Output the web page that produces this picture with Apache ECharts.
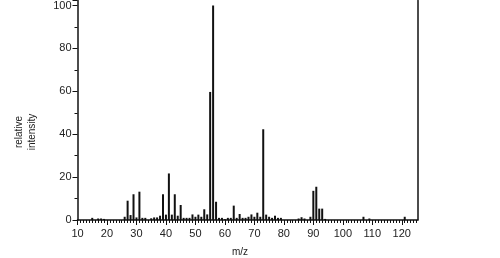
<!DOCTYPE html>
<html>
<head>
<meta charset="utf-8">
<script src="https://cdn.jsdelivr.net/npm/echarts@6/dist/echarts.min.js"></script>
<style>html,body{margin:0;padding:0;background:#fff}#c{width:500px;height:258px}</style>
</head>
<body>
<div id="c"></div>
<script>
var mz = [15,17,18,19,26,27,28,29,30,31,32,33,35,36,37,38,39,40,41,42,43,44,45,46,47,48,49,50,51,52,53,54,55,56,57,58,59,60,61,62,63,64,65,66,67,68,69,70,71,72,73,74,75,76,77,78,79,85,86,87,89,90,91,92,93,94,107,109,121];
var intensity = [1.0,0.7,0.7,0.5,1.5,9,2.3,12,1.2,13.2,1,1,0.8,1.2,1.2,2,12,2.5,21.7,2.5,12,2,7,1,1,1,2.6,1.5,2.5,1.5,5,2.6,59.7,100,8.5,1,1,0.4,1,1,6.7,1,2.8,1,1,1.5,2.6,1.5,3.4,1.5,42.3,2.5,1.5,1,2,1,1,0.7,1.3,0.7,1.5,13.6,15.5,5.3,5.3,0.5,1.5,0.7,1.5];
var xTicks = [10,20,30,40,50,60,70,80,90,100,110,120];
var yTicks = [0,20,40,60,80,100];
var xTitle = 'm/z';
var yTitle = 'relative\nintensity';

var data = mz.map(function(m,i){return [m,intensity[i]];});
var chart = echarts.init(document.getElementById('c'), null, {renderer:'canvas'});
var font = 'Liberation Sans, Arial, sans-serif';
var yMax = 102.3;
chart.setOption({
  animation:false,
  grid:{left:77.5,right:82.3,top:0,bottom:38,show:false},
  xAxis:{type:'value',min:10,max:125.4,interval:10,
    axisLine:{show:true,lineStyle:{color:'#111',width:1.5}},
    axisTick:{show:true,inside:false,length:5,customValues:xTicks,lineStyle:{color:'#111',width:1}},
    minorTick:{show:true,splitNumber:10,length:3,lineStyle:{color:'#111',width:1}},
    splitLine:{show:false},
    axisLabel:{color:'#222',fontSize:11,fontFamily:font,margin:8,customValues:xTicks,
      formatter:function(v){return xTicks.indexOf(v)>=0?String(v):'';}}
  },
  yAxis:[{type:'value',min:0,max:yMax,interval:20,
    axisLine:{show:true,lineStyle:{color:'#111',width:1.5}},
    axisTick:{show:true,inside:false,length:5,lineStyle:{color:'#111',width:1}},
    minorTick:{show:true,splitNumber:2,length:3,lineStyle:{color:'#111',width:1}},
    splitLine:{show:false},
    axisLabel:{color:'#222',fontSize:11,fontFamily:font,margin:6,showMaxLabel:false,
      formatter:function(v){return yTicks.indexOf(v)>=0?String(v):'';}}
  },{type:'value',position:'right',min:0,max:yMax,
    axisLine:{show:true,lineStyle:{color:'#111',width:1.5}},
    axisTick:{show:false},axisLabel:{show:false},splitLine:{show:false}
  }],
  graphic:[
    {type:'text',x:240,y:252,style:{text:xTitle,fill:'#222',font:'10px '+font,textAlign:'center',textVerticalAlign:'middle'}},
    {type:'text',x:26,y:132,rotation:Math.PI/2,style:{text:yTitle,fill:'#222',font:'10px '+font,textAlign:'center',textVerticalAlign:'middle',lineHeight:13}}
  ],
  series:[{type:'bar',data:data,barWidth:2,itemStyle:{color:'#111'},silent:true}]
});
</script>
</body>
</html>
